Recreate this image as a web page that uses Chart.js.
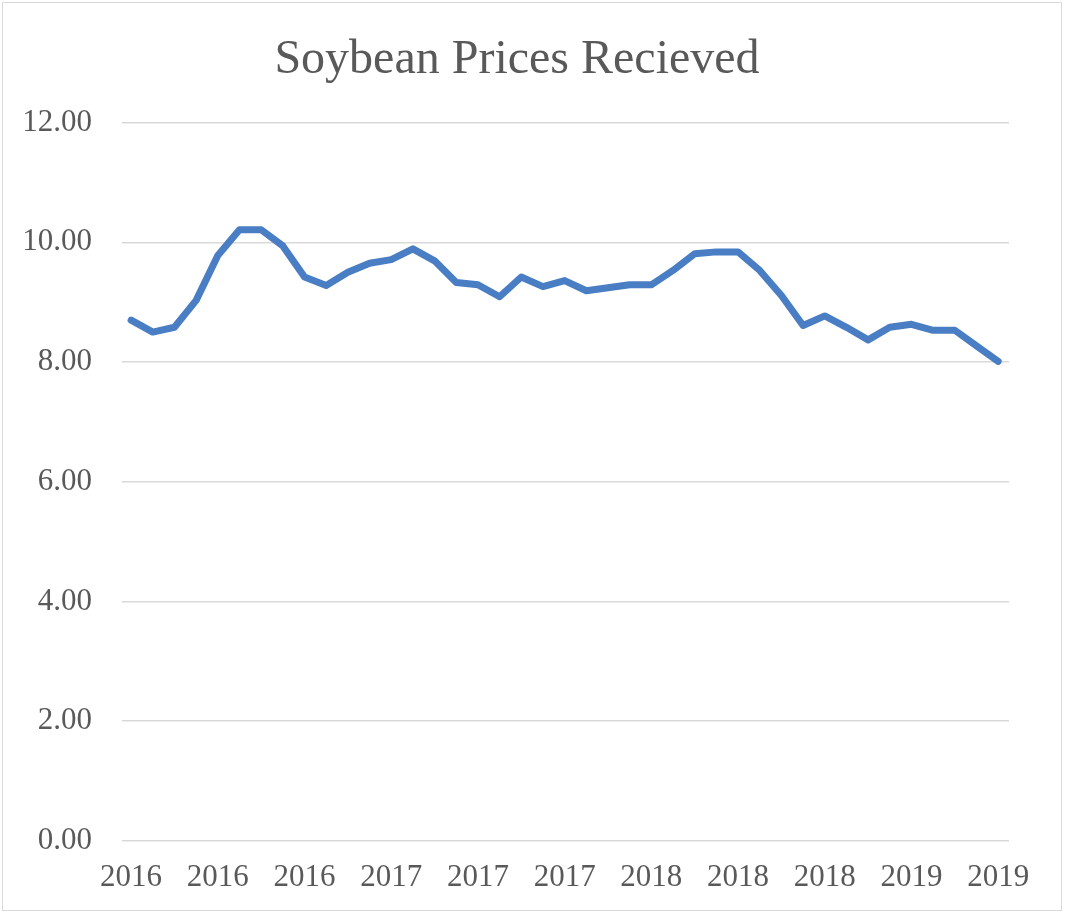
<!DOCTYPE html>
<html>
<head>
<meta charset="utf-8">
<script src="https://cdn.jsdelivr.net/npm/chart.js@4/dist/chart.umd.min.js"></script>
<style>
    html, body { margin: 0; padding: 0; background: #fff; }
    .chart-box {
        position: absolute;
        left: 2px; top: 2px;
        width: 1060px; height: 909px;
        border: 1px solid #d9d9d9;
        box-sizing: border-box;
    }
</style>
</head>
<body>
<div class="chart-box">
    <canvas id="chart"></canvas>
</div>
<script>
// monthly prices, Jan 2016 .. May 2019
const years = [
    '2016', '2016', '2016', '2016', '2016', '2016', '2016', '2016', '2016', '2016', '2016', '2016',
    '2017', '2017', '2017', '2017', '2017', '2017', '2017', '2017', '2017', '2017', '2017', '2017',
    '2018', '2018', '2018', '2018', '2018', '2018', '2018', '2018', '2018', '2018', '2018', '2018',
    '2019', '2019', '2019', '2019', '2019'
];
const prices = [
    8.70, 8.50, 8.58, 9.03, 9.78, 10.21, 10.21, 9.94, 9.42, 9.28, 9.50, 9.65,
    9.71, 9.89, 9.69, 9.33, 9.29, 9.09, 9.42, 9.26, 9.36, 9.19, 9.24, 9.29,
    9.29, 9.53, 9.81, 9.84, 9.84, 9.53, 9.11, 8.61, 8.77, 8.58, 8.37, 8.58,
    8.63, 8.53, 8.53, 8.27, 8.01
];
const tickPositions = [0, 4, 8, 12, 16, 20, 24, 28, 32, 36, 40];
const yTicks = [0, 2, 4, 6, 8, 10, 12];

const textColor = '#595959';
const fontFamily = "'Liberation Serif', serif";

const ctx = document.getElementById('chart').getContext('2d');
new Chart(ctx, {
    type: 'line',
    data: {
        datasets: [{
            label: 'Soybean Prices Recieved',
            data: prices.map((p, i) => ({x: i, y: p})),
            borderColor: '#4a7ec4',
            borderWidth: 7,
            borderJoinStyle: 'round',
            borderCapStyle: 'round',
            pointRadius: 0,
            tension: 0,
            fill: false
        }]
    },
    options: {
        responsive: true,
        maintainAspectRatio: false,
        animation: false,
        layout: {
            padding: {left: 22, right: 52, top: 29, bottom: -4}
        },
        plugins: {
            legend: {display: false},
            tooltip: {enabled: false},
            title: {
                display: true,
                text: 'Soybean Prices Recieved',
                color: textColor,
                font: {family: fontFamily, size: 48, weight: 'normal'},
                padding: {top: 0, bottom: 33}
            }
        },
        scales: {
            x: {
                type: 'linear',
                min: -0.42,
                max: 40.5,
                grid: {display: false, drawTicks: false},
                border: {display: false},
                afterBuildTicks: (scale) => {
                    scale.ticks = tickPositions.map(v => ({value: v}));
                },
                afterFit: (scale) => {
                    scale.paddingLeft = 0;
                    scale.paddingRight = 0;
                },
                ticks: {
                    autoSkip: false,
                    maxRotation: 0,
                    padding: 18,
                    color: textColor,
                    font: {family: fontFamily, size: 31},
                    callback: (value) => years[value]
                }
            },
            y: {
                min: 0,
                max: 12,
                afterBuildTicks: (scale) => {
                    scale.ticks = yTicks.map(v => ({value: v}));
                },
                afterFit: (scale) => {
                    scale.width = 97;
                },
                grid: {color: '#d9d9d9', lineWidth: 1.5, drawTicks: false},
                border: {display: false},
                ticks: {
                    padding: 30,
                    color: textColor,
                    font: {family: fontFamily, size: 31},
                    callback: (value) => value.toFixed(2)
                }
            }
        }
    }
});
</script>
</body>
</html>
